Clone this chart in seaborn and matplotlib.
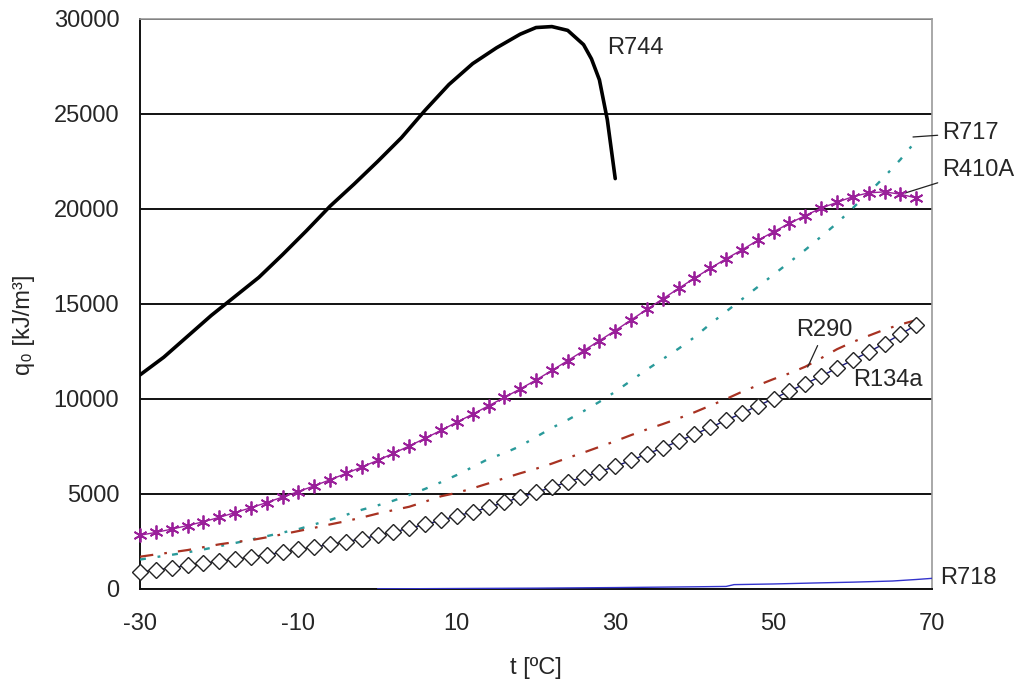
import matplotlib
matplotlib.use("Agg")
import matplotlib.pyplot as plt
from matplotlib.ticker import FixedLocator, MultipleLocator, NullFormatter
import seaborn as sns

# temperature grid of the marked curves [°C]
t_grid = [-30, -28, -26, -24, -22, -20, -18, -16, -14, -12,
          -10, -8, -6, -4, -2, 0, 2, 4, 6, 8,
          10, 12, 14, 16, 18, 20, 22, 24, 26, 28,
          30, 32, 34, 36, 38, 40, 42, 44, 46, 48,
          50, 52, 54, 56, 58, 60, 62, 64, 66, 68]

# volumetric refrigerating capacity q0 [kJ/m3]
q_r410a = [2830, 2980, 3150, 3340, 3540, 3770, 4020, 4280, 4550, 4840,
           5130, 5430, 5750, 6080, 6420, 6770, 7140, 7530, 7930, 8350,
           8780, 9200, 9640, 10080, 10530, 11000, 11500, 12020, 12540, 13070,
           13600, 14160, 14720, 15270, 15820, 16360, 16880, 17380, 17850, 18350,
           18800, 19250, 19650, 20050, 20350, 20650, 20850, 20900, 20780, 20580]

q_r134a = [900, 1000, 1120, 1240, 1360, 1460, 1560, 1680, 1810, 1930,
           2080, 2210, 2350, 2490, 2640, 2820, 3000, 3200, 3400, 3610,
           3850, 4050, 4300, 4560, 4830, 5080, 5360, 5630, 5900, 6170,
           6450, 6770, 7100, 7430, 7780, 8140, 8500, 8880, 9250, 9640,
           10020, 10420, 10800, 11200, 11630, 12050, 12480, 12920, 13400, 13900]

q_r290 = [1700, 1820, 1930, 2050, 2200, 2350, 2470, 2570, 2720, 2880,
          3050, 3220, 3400, 3570, 3760, 3970, 4150, 4330, 4600, 4880,
          5060, 5300, 5560, 5830, 6090, 6330, 6600, 6900, 7180, 7480,
          7780, 8100, 8400, 8680, 8980, 9300, 9650, 10000, 10380, 10720,
          11050, 11350, 11700, 12150, 12620, 13000, 13330, 13650, 13920, 14150]

q_r717 = [1550, 1680, 1800, 1930, 2080, 2250, 2420, 2600, 2780, 2970,
          3150, 3400, 3640, 3900, 4170, 4400, 4650, 4950, 5270, 5620,
          6000, 6420, 6850, 7150, 7520, 8000, 8480, 8900, 9360, 9850,
          10380, 10970, 11550, 12100, 12650, 13250, 13950, 14600, 15250, 15900,
          16550, 17200, 17850, 18550, 19250, 20050, 20850, 21700, 22600, 23600]

t_r744 = [-30, -27, -24, -21, -18, -15, -12, -9, -6, -3, 0, 3, 6, 9, 12, 15,
          18, 20, 22, 24, 26, 27, 28, 29, 30]
q_r744 = [11270, 12200, 13300, 14400, 15400, 16400, 17600, 18850, 20150, 21300,
          22500, 23750, 25200, 26550, 27650, 28480, 29200, 29550, 29600, 29400,
          28650, 27900, 26800, 24700, 21600]

t_r718 = [0, 5, 10, 15, 20, 25, 30, 35, 40, 44, 45, 50, 55, 60, 65, 68, 70]
q_r718 = [10, 15, 25, 35, 45, 60, 75, 95, 115, 135, 230, 265, 315, 360, 420, 500, 560]

x_ticks = [-30, -10, 10, 30, 50, 70]

# label text, text position, leader end point (None = no leader)
labels = [
    ("R744", (29.0, 28470), None),
    ("R717", (71.3, 24000), (67.6, 23790)),
    ("R410A", (71.3, 22050), (66.6, 20840)),
    ("R290", (52.9, 13630), (54.3, 11680)),
    ("R134a", (60.0, 11000), None),
    ("R718", (71.0, 580), None),
]

sns.set_style("white")
plt.rcParams["font.family"] = ["Liberation Sans", "DejaVu Sans"]
plt.rcParams["axes.unicode_minus"] = False

fig, ax = plt.subplots(figsize=(10.26, 6.88), dpi=100)
fig.subplots_adjust(left=0.1365, right=0.9084, bottom=0.1439, top=0.9724)

sns.lineplot(x=t_r718, y=q_r718, ax=ax, color="#3333cc", linewidth=1.0,
             errorbar=None, zorder=3)
sns.lineplot(x=t_grid, y=q_r717, ax=ax, color="#2a9a9a", linewidth=1.7,
             linestyle=(0, (2.5, 5, 1.2, 5)), errorbar=None, zorder=3)
sns.lineplot(x=t_grid, y=q_r290, ax=ax, color="#a83222", linewidth=1.6,
             linestyle=(0, (6, 5, 1.2, 5)), errorbar=None, zorder=3)
sns.lineplot(x=t_grid, y=q_r134a, ax=ax, color="#1a1a80", linewidth=1.0,
             marker="D", markersize=8.5, markerfacecolor="white",
             markeredgecolor="#222222", markeredgewidth=1.0,
             errorbar=None, zorder=4, clip_on=False)
sns.lineplot(x=t_grid, y=q_r410a, ax=ax, color="#9a1f9a", linewidth=1.0,
             marker=(6, 2, 0), markersize=10, markeredgecolor="#9a1f9a",
             markeredgewidth=1.3, errorbar=None, zorder=4, clip_on=False)
sns.lineplot(x=t_r744, y=q_r744, ax=ax, color="black", linewidth=2.6,
             errorbar=None, zorder=5)

for text, pos, tip in labels:
    if tip is None:
        ax.annotate(text, xy=pos, xytext=pos, fontsize=17, va="center",
                    ha="left", annotation_clip=False)
    else:
        ax.annotate(text, xy=tip, xytext=pos, fontsize=17, va="center",
                    ha="left", annotation_clip=False,
                    arrowprops=dict(arrowstyle="-", color="#222222", lw=0.9,
                                    shrinkA=1, shrinkB=0))

ax.set_xlim(-30, 70)
ax.set_ylim(0, 30000)
ax.xaxis.set_major_locator(FixedLocator(x_ticks))
ax.xaxis.set_minor_locator(MultipleLocator(10))
ax.yaxis.set_major_locator(MultipleLocator(5000))
ax.yaxis.set_minor_locator(MultipleLocator(2500))
ax.yaxis.set_minor_formatter(NullFormatter())
ax.xaxis.set_minor_formatter(NullFormatter())

ax.grid(axis="y", which="major", color="#111111", linewidth=1.4)
ax.set_axisbelow(True)

ax.tick_params(axis="x", which="both", direction="inout", length=10,
               width=1.2, color="#111111", labelsize=17, pad=12)
ax.tick_params(axis="y", which="major", direction="out", length=7,
               width=1.2, color="#111111", labelsize=17, pad=8)
ax.tick_params(axis="y", which="minor", direction="inout", length=7,
               width=1.2, color="#111111")

for side in ["left", "bottom"]:
    ax.spines[side].set_color("#111111")
    ax.spines[side].set_linewidth(1.4)
for side in ["right", "top"]:
    ax.spines[side].set_color("#999999")
    ax.spines[side].set_linewidth(1.2)

ax.set_xlabel("t [ºC]", fontsize=17)
ax.set_ylabel("q₀ [kJ/m³]", fontsize=17)
ax.yaxis.set_label_coords(-0.133, 0.463)
ax.xaxis.set_label_coords(0.5, -0.12)

fig.savefig("out.png", dpi=100)
